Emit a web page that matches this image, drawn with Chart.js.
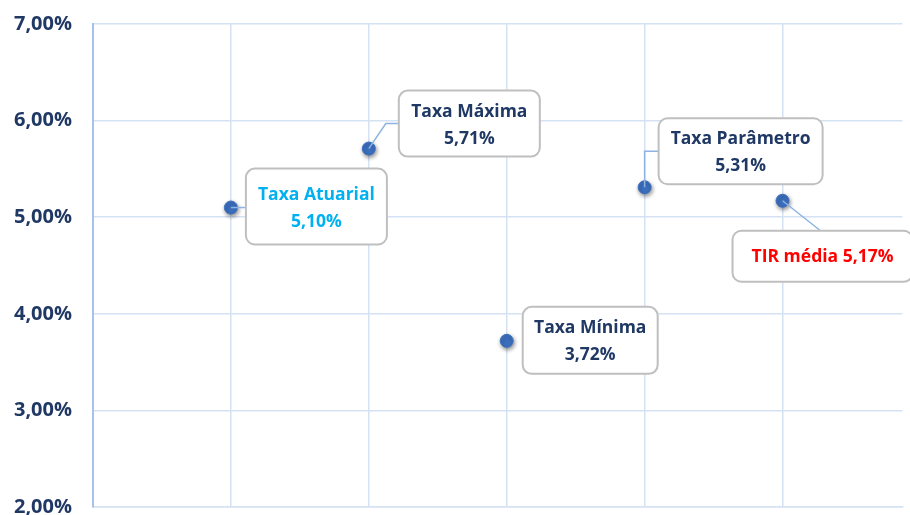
<!DOCTYPE html>
<html>
<head>
<meta charset="utf-8">
<script src="https://cdn.jsdelivr.net/npm/chart.js@4.4.1/dist/chart.umd.min.js"></script>
<style>
  html, body { margin: 0; padding: 0; background: #fff; }
  #wrap { width: 910px; height: 515px; position: relative; }
</style>
</head>
<body>
<div id="wrap"><canvas id="taxaChart"></canvas></div>
<script>
// dados do gráfico
const taxaNomes = ['Taxa Atuarial', 'Taxa Máxima', 'Taxa Mínima', 'Taxa Parâmetro', 'TIR média'];
const taxaPosX = [1, 2, 3, 4, 5];
const taxaValores = [5.10, 5.71, 3.72, 5.31, 5.17];
const eixoYTicks = [2, 3, 4, 5, 6, 7];

function fmtPct(v) {
    return v.toFixed(2).replace('.', ',') + '%';
}

// caixas de rótulo (posição relativa ao ponto, em px)
const calloutStyle = [
    { dx: 15, dy: -39, w: 141, h: 76, color: '#00B0F0', lines: 2, leader: [[0, 0], [15, 0]] },
    { dx: 30, dy: -58, w: 141, h: 66, color: '#1F3864', lines: 2, leader: [[0, 0], [17, -25], [30, -25]] },
    { dx: 16, dy: -34, w: 135, h: 67, color: '#1F3864', lines: 2, leader: null },
    { dx: 14, dy: -69, w: 164, h: 66, color: '#1F3864', lines: 2, leader: [[0, 0], [0, -36], [14, -36]] },
    { dx: -50, dy: 30, w: 180, h: 51, color: '#FF0000', lines: 1, leader: [[0, 0], [38, 30]] }
];

const calloutPlugin = {
    id: 'callouts',
    afterDatasetsDraw(chart) {
        const ctx = chart.ctx;
        const meta = chart.getDatasetMeta(0);
        ctx.save();
        meta.data.forEach(function(pt, i) {
            let s = calloutStyle[i];
            let px = pt.x, py = pt.y;
            // linha guia
            if (s.leader) {
                ctx.beginPath();
                ctx.strokeStyle = '#8DB3E2';
                ctx.lineWidth = 1.5;
                s.leader.forEach(function(p, k) {
                    if (k === 0) ctx.moveTo(px + p[0], py + p[1]);
                    else ctx.lineTo(px + p[0], py + p[1]);
                });
                ctx.stroke();
            }
            // caixa
            let bx = px + s.dx, by = py + s.dy;
            ctx.beginPath();
            ctx.roundRect(bx, by, s.w, s.h, 9);
            ctx.fillStyle = '#FFFFFF';
            ctx.fill();
            ctx.strokeStyle = '#BFBFBF';
            ctx.lineWidth = 2;
            ctx.stroke();
            // texto
            ctx.fillStyle = s.color;
            ctx.font = 'bold 17.5px "Open Sans"';
            ctx.textAlign = 'center';
            ctx.textBaseline = 'middle';
            let cx = bx + s.w / 2, cy = by + s.h / 2;
            if (s.lines === 2) {
                ctx.fillText(taxaNomes[i], cx, cy - 12);
                ctx.fillText(fmtPct(taxaValores[i]), cx, cy + 15);
            } else {
                ctx.fillText(taxaNomes[i] + ' ' + fmtPct(taxaValores[i]), cx, cy + 1);
            }
        });
        ctx.restore();
    }
};

const shadowPlugin = {
    id: 'pointShadow',
    beforeDatasetsDraw(chart) {
        const ctx = chart.ctx;
        ctx.save();
        ctx.shadowColor = 'rgba(0,0,0,0.45)';
        ctx.shadowBlur = 4;
        ctx.shadowOffsetX = 1;
        ctx.shadowOffsetY = 2;
    },
    afterDatasetsDraw(chart) {
        chart.ctx.restore();
    }
};

let pontos = taxaPosX.map(function(x, i) {
    return { x: x, y: taxaValores[i] };
});

let ctx = document.getElementById('taxaChart').getContext('2d');
let taxaChart = new Chart(ctx, {
    type: 'scatter',
    data: {
        datasets: [{
            label: 'Taxas',
            data: pontos,
            backgroundColor: '#3C6FBE',
            borderColor: '#3C6FBE',
            pointRadius: 6.5,
            pointHoverRadius: 6.5
        }]
    },
    options: {
        responsive: true,
        maintainAspectRatio: false,
        animation: false,
        events: [],
        layout: { padding: { top: 24, bottom: 8, right: 0, left: 0 } },
        plugins: {
            legend: { display: false },
            tooltip: { enabled: false }
        },
        scales: {
            x: {
                type: 'linear',
                min: 0,
                max: 5.87,
                ticks: { display: false, stepSize: 1 },
                afterBuildTicks: function(scale) {
                    scale.ticks = taxaPosX.map(function(v) { return { value: v }; }).concat([{ value: 0 }]);
                },
                afterFit: function(scale) {
                    scale.height = 0;
                    scale.paddingLeft = 0;
                    scale.paddingRight = 0;
                },
                grid: { color: '#D5E2F4', lineWidth: 1.5, drawTicks: false },
                border: { color: '#D5E2F4', width: 1.5 }
            },
            y: {
                min: 2,
                max: 7,
                afterBuildTicks: function(scale) {
                    scale.ticks = eixoYTicks.map(function(v) { return { value: v }; });
                },
                afterFit: function(scale) {
                    scale.width = 93;
                    scale.paddingTop = 0;
                    scale.paddingBottom = 0;
                },
                ticks: {
                    padding: 21,
                    color: '#203864',
                    font: { family: 'Open Sans', weight: 'bold', size: 20 },
                    callback: function(value) { return fmtPct(value); }
                },
                grid: { color: '#D5E2F4', lineWidth: 1.5, drawTicks: false },
                border: { color: '#A6C2EA', width: 2 }
            }
        }
    },
    plugins: [shadowPlugin, calloutPlugin]
});
</script>
</body>
</html>
